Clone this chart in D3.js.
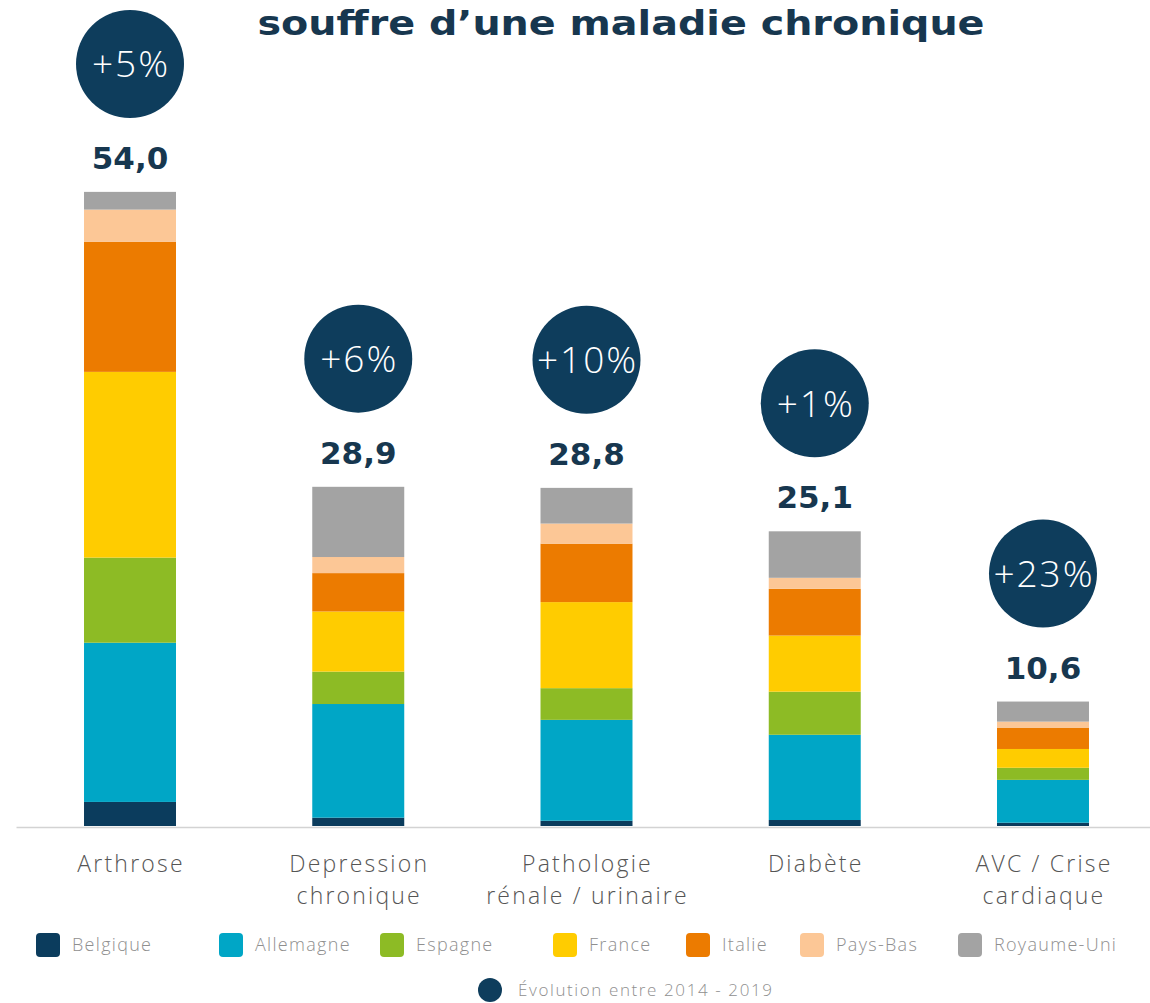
<!DOCTYPE html>
<html><head><meta charset="utf-8">
<script src="https://cdn.jsdelivr.net/npm/d3@7"></script>
<style>
html,body{margin:0;padding:0;background:#fff;}
svg{display:block;}
</style></head>
<body>
<svg id="chart" width="1150" height="1003"></svg>
<script>
// ---- data ----
const categories = ["Arthrose", "Depression chronique", "Pathologie rénale / urinaire", "Diabète", "AVC / Crise cardiaque"];
const categoryLines = [["Arthrose"], ["Depression", "chronique"], ["Pathologie", "rénale / urinaire"], ["Diabète"], ["AVC / Crise", "cardiaque"]];
const countries = ["Belgique", "Allemagne", "Espagne", "France", "Italie", "Pays-Bas", "Royaume-Uni"];
const belgique   = [2.05, 0.71, 0.45, 0.51, 0.28];
const allemagne  = [13.56, 9.68, 8.59, 7.26, 3.65];
const espagne    = [7.25, 2.76, 2.70, 3.67, 1.03];
const france     = [15.82, 5.12, 7.33, 4.78, 1.60];
const italie     = [11.09, 3.27, 4.98, 3.98, 1.82];
const paysBas    = [2.73, 1.37, 1.71, 0.94, 0.51];
const royaumeUni = [1.51, 5.98, 3.04, 3.96, 1.71];
const totals     = [54.0, 28.9, 28.8, 25.1, 10.6];
const totalLabels = ["54,0", "28,9", "28,8", "25,1", "10,6"];
const evolution  = ["+5%", "+6%", "+10%", "+1%", "+23%"];
const title = "souffre d’une maladie chronique";
const evolutionLegend = "Évolution entre 2014 - 2019";

// ---- styles ----
const colors = ["#0b3c5d", "#00a6c6", "#8dbb25", "#ffcc00", "#ec7b00", "#fcc796", "#a3a3a3"];
const navy = "#0e3d5c";
const textNavy = "#17374f";

const seriesArrays = [belgique, allemagne, espagne, france, italie, paysBas, royaumeUni];
const table = categories.map((c, i) => {
  const row = {category: c};
  countries.forEach((k, j) => row[k] = seriesArrays[j][i]);
  return row;
});
const stacked = d3.stack().keys(countries)(table);

const svg = d3.select("#chart");
const baseY = 826;
const x = d3.scaleBand().domain(categories).range([16, 1157]).paddingInner(0.597).paddingOuter(0.298);
const y = d3.scaleLinear().domain([0, 54.0]).range([baseY, 192]);
const color = d3.scaleOrdinal().domain(countries).range(colors);

const boldFont = "'DejaVu Sans', Lato, sans-serif";
const lightFont = "'Open Sans', Lato, sans-serif";

// title
svg.append("text")
  .attr("x", 621).attr("y", 35)
  .attr("text-anchor", "middle")
  .attr("font-family", boldFont).attr("font-weight", 700)
  .attr("font-size", 34).attr("fill", textNavy)
  .attr("textLength", 727).attr("lengthAdjust", "spacingAndGlyphs")
  .text(title);

// bars
svg.append("g").selectAll("g").data(stacked).join("g")
  .attr("fill", d => color(d.key))
  .selectAll("rect").data(d => d).join("rect")
  .attr("x", d => x(d.data.category))
  .attr("width", x.bandwidth())
  .attr("y", d => y(d[1]))
  .attr("height", d => y(d[0]) - y(d[1]));

// axis
const axis = svg.append("g").attr("transform", `translate(0,${baseY + 1})`)
  .call(d3.axisBottom(x).tickSize(0).tickSizeOuter(0));
axis.select(".domain").attr("stroke", "#d3d3d3").attr("stroke-width", 1.5);
axis.selectAll(".tick text").each(function(d, i) {
  const t = d3.select(this);
  t.text(null).attr("y", 0).attr("dy", null)
    .attr("font-family", lightFont).attr("font-weight", 300)
    .attr("font-size", 23).attr("fill", "#555")
    .style("letter-spacing", "2.2px");
  categoryLines[i].forEach((line, k) => {
    t.append("tspan").attr("x", 1).attr("y", 45 + k * 32).text(line);
  });
});

// totals labels
const cx = d => x(d) + x.bandwidth() / 2;
svg.append("g").selectAll("text").data(categories).join("text")
  .attr("x", d => cx(d))
  .attr("y", (d, i) => y(totals[i]) - 23)
  .attr("text-anchor", "middle")
  .attr("font-family", boldFont).attr("font-weight", 700)
  .attr("font-size", 31).attr("fill", textNavy)
  .text((d, i) => totalLabels[i]);

// evolution circles
const circ = svg.append("g").selectAll("g").data(categories).join("g")
  .attr("transform", (d, i) => `translate(${cx(d)},${y(totals[i]) - 128})`);
circ.append("circle").attr("r", 54).attr("fill", navy);
circ.append("text")
  .attr("x", 1)
  .attr("text-anchor", "middle").attr("dy", "0.36em")
  .attr("font-family", lightFont).attr("font-weight", 300)
  .attr("font-size", 37).attr("fill", "#fff")
  .style("letter-spacing", "2px")
  .text((d, i) => evolution[i]);

// legend
const legendX = [36, 219, 380, 553, 686, 800, 958];
const leg = svg.append("g").selectAll("g").data(countries).join("g")
  .attr("transform", (d, i) => `translate(${legendX[i]},933)`);
leg.append("rect").attr("width", 24).attr("height", 24).attr("rx", 4)
  .attr("fill", d => color(d));
leg.append("text").attr("x", 36).attr("y", 18)
  .attr("font-family", lightFont).attr("font-weight", 300)
  .attr("font-size", 18).attr("fill", "#8f8f8f")
  .style("letter-spacing", "1.3px")
  .text(d => d);

const leg2 = svg.append("g").attr("transform", "translate(490,990)");
leg2.append("circle").attr("r", 12).attr("fill", navy);
leg2.append("text").attr("x", 28).attr("y", 6)
  .attr("font-family", lightFont).attr("font-weight", 300)
  .attr("font-size", 17).attr("fill", "#8f8f8f")
  .style("letter-spacing", "1.6px")
  .text(evolutionLegend);
</script>
</body></html>
